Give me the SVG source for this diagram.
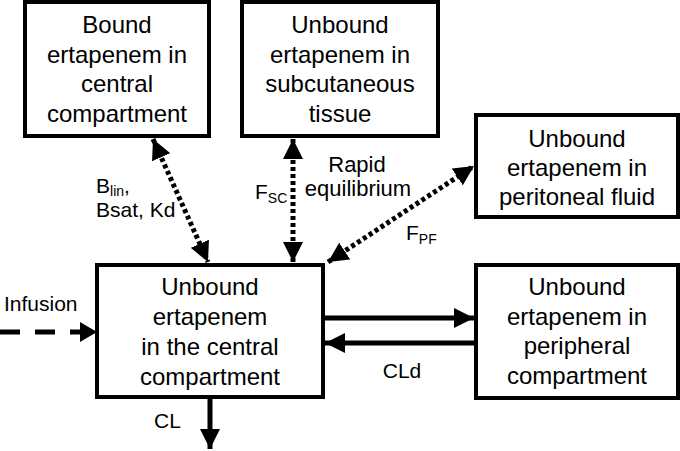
<svg xmlns="http://www.w3.org/2000/svg" width="680" height="451" viewBox="0 0 680 451">
<style>
.box{fill:#fff;stroke:#000;stroke-width:4}
.t{font-family:"Liberation Sans",Arial,sans-serif;font-size:24px;fill:#000;text-anchor:middle}
.l{font-family:"Liberation Sans",Arial,sans-serif;font-size:21px;fill:#000}
.s{font-size:14px}
.dot{stroke:#000;stroke-width:5;stroke-dasharray:4 3;fill:none}
.solid{stroke:#000;stroke-width:5;fill:none}
.dash{stroke:#000;stroke-width:5;stroke-dasharray:20 15;fill:none}
</style>
<defs>
<marker id="ah" viewBox="0 0 10 10" refX="10" refY="5" markerWidth="4" markerHeight="4" markerUnits="strokeWidth" orient="auto-start-reverse">
<path d="M0,0 L10,5 L0,10 z" fill="#000"/>
</marker>
</defs>
<rect width="680" height="451" fill="#fff"/>
<g id="connectors">
<line class="dot" x1="153" y1="139" x2="208" y2="262" marker-start="url(#ah)" marker-end="url(#ah)"/>
<line class="dot" x1="293" y1="139" x2="293" y2="262" marker-start="url(#ah)" marker-end="url(#ah)"/>
<line class="dot" x1="328" y1="262" x2="474" y2="166" marker-start="url(#ah)" marker-end="url(#ah)"/>
<line class="solid" x1="323" y1="318" x2="474" y2="318" marker-end="url(#ah)"/>
<line class="solid" x1="476" y1="343" x2="325" y2="343" marker-end="url(#ah)"/>
<line class="dash" x1="0" y1="332" x2="95" y2="332"/>
<path d="M80,322 L97,332 L80,342 z" fill="#000"/>
<line class="solid" x1="210" y1="397" x2="210" y2="449" marker-end="url(#ah)"/>
<text class="l" x="96" y="193">B<tspan class="s" dy="3">lin</tspan><tspan dy="-3">,</tspan></text>
<text class="l" x="96" y="217">Bsat, Kd</text>
<text class="l" x="255" y="199">F<tspan class="s" dy="4">SC</tspan></text>
<text class="l" x="357" y="172" text-anchor="middle" style="font-size:22px">Rapid</text>
<text class="l" x="358" y="196" text-anchor="middle" style="font-size:22px">equilibrium</text>
<text class="l" x="406" y="240">F<tspan class="s" dy="4">PF</tspan></text>
<text class="l" x="4" y="311">Infusion</text>
<text class="l" x="402" y="378" text-anchor="middle">CLd</text>
<text class="l" x="154" y="428">CL</text>
</g>
<g id="bound">
<rect class="box" x="25" y="2" width="184" height="134"/>
<text class="t" x="117" y="33">Bound</text>
<text class="t" x="117" y="63">ertapenem in</text>
<text class="t" x="117" y="92">central</text>
<text class="t" x="117" y="122">compartment</text>
</g>
<g id="subcutaneous">
<rect class="box" x="242" y="2" width="196" height="134"/>
<text class="t" x="340" y="33">Unbound</text>
<text class="t" x="340" y="63">ertapenem in</text>
<text class="t" x="340" y="92">subcutaneous</text>
<text class="t" x="340" y="122">tissue</text>
</g>
<g id="peritoneal">
<rect class="box" x="476" y="115" width="202" height="102"/>
<text class="t" x="577" y="147">Unbound</text>
<text class="t" x="577" y="176">ertapenem in</text>
<text class="t" x="577" y="205">peritoneal fluid</text>
</g>
<g id="central">
<rect class="box" x="97" y="265" width="226" height="132"/>
<text class="t" x="210" y="295">Unbound</text>
<text class="t" x="210" y="325">ertapenem</text>
<text class="t" x="210" y="355">in the central</text>
<text class="t" x="210" y="385">compartment</text>
</g>
<g id="peripheral">
<rect class="box" x="476" y="265" width="202" height="133"/>
<text class="t" x="577" y="295">Unbound</text>
<text class="t" x="577" y="325">ertapenem in</text>
<text class="t" x="577" y="354">peripheral</text>
<text class="t" x="577" y="384">compartment</text>
</g>
</svg>
